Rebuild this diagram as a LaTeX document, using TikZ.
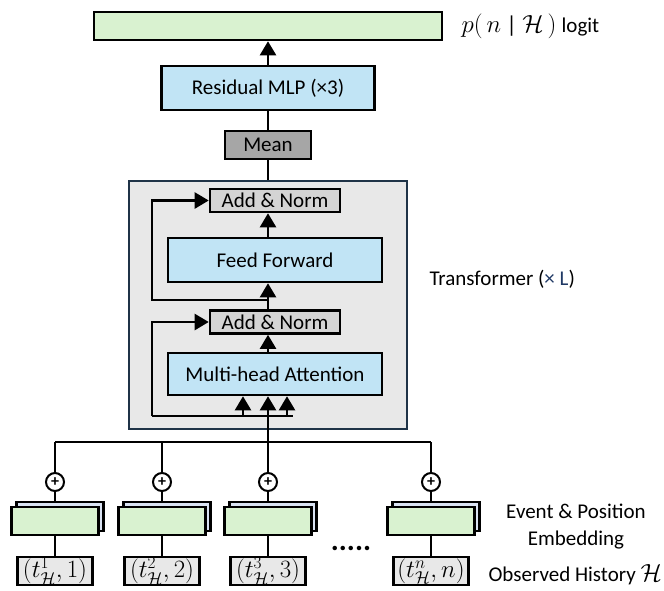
\documentclass[tikz,border=0pt]{standalone}
\usepackage{amsmath,amssymb}
\usepackage{fontspec}
\setmainfont{Carlito}
\usetikzlibrary{arrows.meta,calc}
\definecolor{embgreen}{HTML}{D9F2D0}
\definecolor{embblue}{HTML}{DAE3F3}
\definecolor{layblue}{HTML}{C1E4F5}
\definecolor{normgray}{HTML}{D4D4D4}
\definecolor{meangray}{HTML}{A6A6A6}
\definecolor{tfgray}{HTML}{E8E8E8}
\definecolor{tfedge}{HTML}{1F3347}
\definecolor{xlblue}{HTML}{1F3864}

\begin{document}
\begin{tikzpicture}[x=1pt,y=-1pt,
    txt/.style={font=\fontsize{21}{25}\selectfont},
    mathtxt/.style={font=\fontsize{23.5}{26}\selectfont},
    box/.style={txt, draw, line width=2.6pt, inner sep=0pt},
    arr/.style={line width=2.4pt, -{Triangle[width=16pt,length=14pt]}},
    wire/.style={line width=2.4pt}]

                \useasboundingbox (0,0) rectangle (664,590);

                % head
                \node[box, fill=embgreen, minimum width=348, minimum height=28] (logit) at (268,26) {};
                \node[txt, anchor=west] (logitlbl) at (458,26) {\fontsize{23}{26}\selectfont$p(\,n$ \textbar{} $\mathcal{H}\,)$ \fontsize{21}{25}\selectfont logit};
                \node[box, fill=layblue, minimum width=213, minimum height=44] (mlp) at (268,88) {Residual MLP (×3)};
                \node[box, fill=meangray, minimum width=86, minimum height=28] (mean) at (268,145) {Mean};

                % transformer block
                \node[box, draw=tfedge, fill=tfgray, minimum width=278, minimum height=248] (tf) at (268,305) {};
                \node[txt, anchor=west] (tflbl) at (426,279) {Transformer ({\color{xlblue}× L})};
                \node[box, fill=normgray, minimum width=130, minimum height=23] (norma) at (275,200.5) {Add \& Norm};
                \node[box, fill=layblue, minimum width=214, minimum height=44] (ff) at (275,260) {Feed Forward};
                \node[box, fill=normgray, minimum width=130, minimum height=23] (normb) at (275,322) {Add \& Norm};
                \node[box, fill=layblue, minimum width=214, minimum height=42] (mha) at (275,374) {Multi-head Attention};

                \coordinate (ax) at (268,0);
                \coordinate (skipa) at (268,300);
                \coordinate (skipb) at (152,416);
                \coordinate (qa) at (243,416);
                \coordinate (qb) at (268,416);
                \coordinate (qc) at (287,416);
                \coordinate (qend) at (293,416);
                \coordinate (bl) at (55,442);
                \coordinate (br) at (431,442);
                \coordinate (bc) at (268,442);

                \draw[arr] (mlp) -- (logit);
                \draw[wire] (mean) -- (mlp);
                \draw[wire] (tf) -- (mean);
                \draw[arr] (ff.north -| ax) -- (norma.south -| ax);
                \draw[arr] (normb.north -| ax) -- (ff.south -| ax);
                \draw[arr] (mha.north -| ax) -- (normb.south -| ax);
                \draw[arr] (skipa) -| (152,250) |- (norma.west);
                \draw[wire] (skipb) -- (qend);
                \draw[arr] (skipb) |- (normb.west);
                \draw[arr] (qa) -- (qa |- mha.south);
                \draw[arr] (bc) -- (qb |- mha.south);
                \draw[arr] (qc) -- (qc |- mha.south);

                % embeddings
                \draw[wire] (bl) -- (br);
                \foreach \i/\x/\hist in {1/55/{$(t^{1}_{\mathcal{H}},1)$},
                                         2/162/{$(t^{2}_{\mathcal{H}},2)$},
                                         3/268/{$(t^{3}_{\mathcal{H}},3)$},
                                         4/431/{$(t^{n}_{\mathcal{H}},n)$}} {
                    \node[box, fill=embblue, minimum width=87, minimum height=29] (back\i) at (\x+5,516.5) {};
                    \node[box, fill=embgreen, minimum width=87, minimum height=28] (emb\i) at (\x,521) {};
                    \node[circle, draw, line width=2pt, fill=white, minimum size=18, inner sep=0pt,
                          font=\fontsize{16}{16}\selectfont\bfseries] (plus\i) at (\x,482) {+};
                    \node[box, mathtxt, fill=tfgray, minimum width=75, minimum height=28] (hist\i) at (\x,571) {\hist};
                    \draw[wire] (\x,442) -- (plus\i);
                    \draw[wire] (plus\i) -- (plus\i |- back\i.north);
                    \draw[wire] (emb\i) -- (hist\i);
                }

                \node[font=\fontsize{30}{30}\selectfont\bfseries, anchor=base] (dots) at (351,550) {.....};
                \node[font=\fontsize{21}{27}\selectfont, align=center] (emblbl) at (576,527) {Event \& Position\\Embedding};
                \node[txt, anchor=west] (histlbl) at (485,575) {Observed History \fontsize{23}{26}\selectfont$\mathcal{H}$};

            \end{tikzpicture}
\end{document}
